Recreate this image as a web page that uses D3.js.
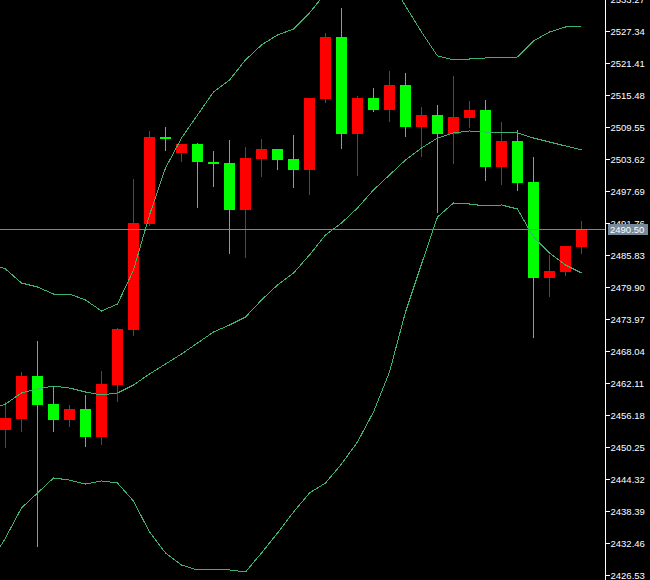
<!DOCTYPE html>
<html><head><meta charset="utf-8">
<script src="https://cdn.jsdelivr.net/npm/d3@7"></script>
<style>html,body{margin:0;padding:0;background:#000;overflow:hidden}</style>
</head><body>
<svg id="c" width="650" height="580"></svg>
<script>
// ---- data ----
const bars = d3.range(0, 37);
const open  = [2453.40,2455.44,2463.41,2458.22,2455.25,2457.29,2452.10,2461.74,2471.93,2491.57,2507.70,2504.73,2506.40,2503.06,2502.88,2494.17,2503.62,2505.47,2503.62,2501.58,2514.74,2526.23,2508.25,2514.92,2512.70,2517.33,2509.55,2511.77,2508.25,2511.22,2512.70,2502.14,2506.96,2499.36,2481.57,2482.68,2487.31];
const high  = [2458.59,2464.15,2469.89,2461.37,2458.03,2459.89,2464.33,2472.30,2499.91,2508.81,2509.55,2506.40,2506.59,2505.10,2507.14,2505.84,2507.33,2505.47,2508.07,2514.92,2526.97,2531.60,2515.29,2516.78,2519.93,2519.56,2513.26,2513.63,2519.00,2514.37,2514.55,2510.48,2508.99,2503.99,2485.83,2487.50,2492.13];
const low   = [2450.25,2453.22,2431.90,2453.22,2454.14,2450.44,2450.81,2458.77,2471.01,2491.39,2505.29,2503.25,2494.73,2498.62,2486.20,2485.46,2500.47,2501.77,2498.43,2497.13,2514.18,2505.66,2500.66,2512.52,2510.66,2507.88,2504.18,2493.80,2502.88,2509.55,2499.73,2498.99,2497.88,2470.63,2478.23,2482.12,2486.20];
const close = [2455.62,2463.41,2458.03,2455.25,2457.29,2452.10,2461.92,2472.12,2491.76,2507.70,2507.33,2506.40,2503.06,2502.69,2494.17,2503.81,2505.47,2503.43,2501.58,2514.92,2526.23,2508.25,2514.92,2512.70,2517.33,2509.55,2511.77,2508.25,2511.40,2512.70,2502.14,2506.96,2499.17,2481.57,2482.87,2487.50,2490.50];

// Bollinger bands, one value per bar starting one bar before the first visible candle
const bandBars = d3.range(-1, 37);
const upperBand  = [2484.35,2483.24,2480.64,2479.90,2478.60,2478.60,2477.49,2475.45,2476.75,2483.05,2493.24,2501.95,2507.51,2511.77,2516.04,2518.26,2521.97,2524.75,2526.60,2527.71,2530.68,2534.38,2537.72,2539.57,2539.57,2536.98,2531.97,2527.15,2522.71,2521.97,2522.15,2522.34,2522.34,2522.52,2525.49,2527.15,2528.08,2528.27];
const middleBand = [2457.11,2458.22,2460.26,2461.00,2461.55,2461.18,2460.44,2459.89,2460.26,2461.74,2463.78,2465.63,2467.48,2469.52,2471.56,2472.86,2474.34,2477.49,2480.27,2482.49,2485.83,2489.54,2491.76,2494.54,2497.88,2500.66,2503.43,2505.66,2507.51,2508.44,2508.81,2508.62,2508.62,2508.44,2507.51,2506.77,2506.03,2505.29];
const lowerBand  = [2428.57,2433.39,2438.95,2441.73,2444.51,2444.13,2443.39,2443.95,2443.58,2440.24,2434.50,2430.61,2428.38,2427.46,2427.46,2427.46,2427.09,2430.61,2434.31,2438.20,2441.73,2443.58,2447.10,2451.18,2456.74,2464.15,2475.27,2484.16,2492.87,2495.47,2495.28,2494.91,2495.10,2494.35,2489.17,2486.20,2483.98,2482.49];

const tickLabels = ["2426.53","2432.46","2438.39","2444.32","2450.25","2456.18","2462.11","2468.04","2473.97","2479.90","2485.83","2491.76","2497.69","2503.62","2509.55","2515.48","2521.41","2527.34","2533.27"];
const lastPrice = 2490.50;

// ---- drawing ----
const svg = d3.select("#c");
svg.append("rect").attr("width", 650).attr("height", 580).attr("fill", "#000");

const x = d3.scaleLinear().domain([0, 36]).range([5.5, 581.5]);
const y = d3.scaleLinear().domain([2426.53, 2527.34]).range([575, 31]);
const UP = "#ff0000", DOWN = "#00ff00", BAND = "#3cb371";

const plot = svg.append("g");

// candles
const candles = plot.selectAll("g.candle").data(bars).join("g").attr("class", "candle");
candles.append("line")
  .attr("x1", i => Math.floor(x(i)) + 0.5).attr("x2", i => Math.floor(x(i)) + 0.5)
  .attr("y1", i => Math.round(y(high[i]))).attr("y2", i => Math.round(y(low[i])) + 1)
  .attr("stroke", i => close[i] >= open[i] ? UP : DOWN)
  .attr("stroke-width", 1).attr("shape-rendering", "crispEdges");
candles.append("rect")
  .attr("x", i => Math.round(x(i) - 5.5))
  .attr("width", 11)
  .attr("y", i => Math.round(y(Math.max(open[i], close[i]))))
  .attr("height", i => Math.max(2, Math.round(y(Math.min(open[i], close[i]))) - Math.round(y(Math.max(open[i], close[i])))))
  .attr("fill", i => close[i] >= open[i] ? UP : DOWN)
  .attr("shape-rendering", "crispEdges");

// bands
const line = d3.line().x(d => x(d[0])).y(d => y(d[1]));
[upperBand, middleBand, lowerBand].forEach(b => {
  plot.append("path")
    .attr("d", line(bandBars.map((i, k) => [i, b[k]])))
    .attr("fill", "none").attr("stroke", BAND).attr("stroke-width", 1)
    .attr("shape-rendering", "crispEdges");
});

// current price line
const py = Math.floor(y(lastPrice)) + 0.5;
svg.append("line").attr("x1", 0).attr("x2", 605).attr("y1", py).attr("y2", py)
  .attr("stroke", "#778899").attr("stroke-width", 1).attr("shape-rendering", "crispEdges");

// right axis
const axisX = 605;
svg.append("rect").attr("x", axisX).attr("y", 0).attr("width", 45).attr("height", 580).attr("fill", "#000");
const axis = d3.axisRight(y)
  .tickValues(tickLabels.map(Number))
  .tickFormat((d, k) => tickLabels[k])
  .tickSize(4).tickSizeOuter(0).tickPadding(1);
const ag = svg.append("g").attr("transform", `translate(${axisX + 0.5},0)`).call(axis);
ag.select(".domain").remove();
ag.append("line").attr("x1", 0).attr("x2", 0).attr("y1", 0).attr("y2", 580)
  .attr("stroke", "#fff").attr("shape-rendering", "crispEdges");
ag.selectAll(".tick line").attr("stroke", "#fff").attr("shape-rendering", "crispEdges");
ag.selectAll(".tick text")
  .attr("fill", "#fff")
  .attr("font-family", "'Liberation Sans', Arial, sans-serif")
  .attr("font-size", "9.5px");

// last price label
const lg = svg.append("g");
lg.append("rect").attr("x", 608).attr("y", py - 6).attr("width", 40).attr("height", 11)
  .attr("fill", "#778899").attr("shape-rendering", "crispEdges");
lg.append("text").attr("x", 610).attr("y", py)
  .attr("dy", "0.34em")
  .attr("fill", "#fff")
  .attr("font-family", "'Liberation Sans', Arial, sans-serif")
  .attr("font-size", "9.5px")
  .text(lastPrice.toFixed(2));
</script>
</body></html>
